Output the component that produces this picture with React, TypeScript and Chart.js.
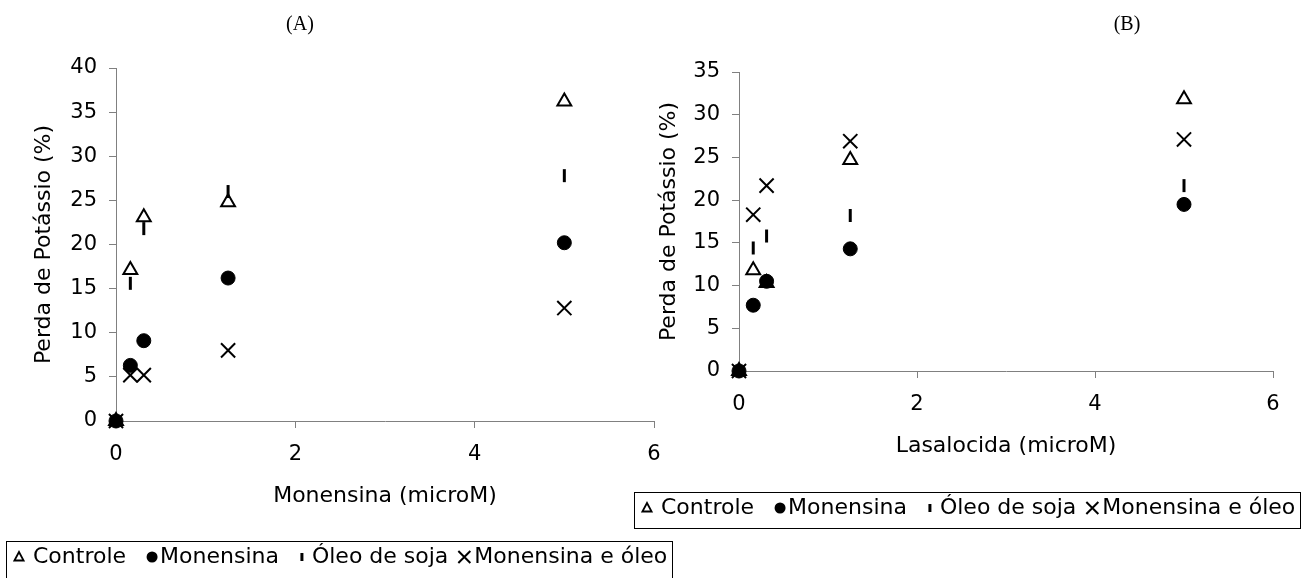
import React, { useEffect, useRef } from 'react';
import { Chart, registerables } from 'chart.js';

Chart.register(...registerables);

const SANS = '"DejaVu Sans", "Liberation Sans", sans-serif';
const SERIF = '"Liberation Serif", "Times New Roman", serif';

// ---------- data ----------
const seriesNames = ['Controle', 'Monensina', 'Óleo de soja', 'Monensina e óleo'];
const xTickValues = [0, 2, 4, 6];
const yTicksA = [0, 5, 10, 15, 20, 25, 30, 35, 40];
const yTicksB = [0, 5, 10, 15, 20, 25, 30, 35];

const concA = [0, 0.16, 0.31, 1.25, 5];
const controleA = [0, 17.1, 23.1, 24.8, 36.2];
const monensinaA = [0, 6.3, 9.1, 16.2, 20.2];
const oleoA = [0, 15.6, 21.8, 26.0, 27.8];
const monOleoA = [0, 5.2, 5.2, 8.0, 12.8];

const concB = [0, 0.16, 0.31, 1.25, 5];
const controleB = [0, 11.8, 10.3, 24.7, 31.8];
const monensinaB = [0, 7.7, 10.5, 14.3, 19.5];
const oleoB = [0, 14.4, 15.8, 18.2, 21.7];
const monOleoB = [0, 18.3, 21.7, 26.9, 27.1];

const titleA = '(A)';
const titleB = '(B)';
const xTitleA = 'Monensina (microM)';
const xTitleB = 'Lasalocida (microM)';
const yTitle = 'Perda de Potássio (%)';

// ---------- styles ----------
type Kind = 'triangle' | 'circle' | 'vline' | 'cross';
const kinds: Kind[] = ['triangle', 'circle', 'vline', 'cross'];

function pointStyleFor(i: number) {
  const k = kinds[i];
  if (k === 'triangle')
    return { pointStyle: 'triangle', pointRadius: 8, pointBackgroundColor: '#ffffff', pointBorderColor: '#000000', pointBorderWidth: 2, order: 4 };
  if (k === 'circle')
    return { pointStyle: 'circle', pointRadius: 7, pointBackgroundColor: '#000000', pointBorderColor: '#000000', pointBorderWidth: 1, order: 1 };
  if (k === 'vline')
    return { pointStyle: 'line', pointRotation: 90, pointRadius: 6.5, pointBackgroundColor: '#000000', pointBorderColor: '#000000', pointBorderWidth: 3, order: 3 };
  return { pointStyle: 'crossRot', pointRadius: 10, pointBackgroundColor: '#000000', pointBorderColor: '#000000', pointBorderWidth: 2, order: 2 };
}

function drawLegendMarker(ctx: CanvasRenderingContext2D, k: Kind, x: number, y: number) {
  ctx.save();
  ctx.strokeStyle = '#000';
  ctx.fillStyle = '#000';
  ctx.beginPath();
  if (k === 'triangle') {
    ctx.lineWidth = 1.8;
    ctx.moveTo(x, y - 5);
    ctx.lineTo(x + 4.6, y + 3.5);
    ctx.lineTo(x - 4.6, y + 3.5);
    ctx.closePath();
    ctx.stroke();
  } else if (k === 'circle') {
    ctx.arc(x, y, 5.5, 0, Math.PI * 2);
    ctx.fill();
  } else if (k === 'vline') {
    ctx.lineWidth = 3;
    ctx.moveTo(x, y - 4);
    ctx.lineTo(x, y + 4);
    ctx.stroke();
  } else {
    ctx.lineWidth = 2;
    ctx.moveTo(x - 6, y - 6);
    ctx.lineTo(x + 6, y + 6);
    ctx.moveTo(x + 6, y - 6);
    ctx.lineTo(x - 6, y + 6);
    ctx.stroke();
  }
  ctx.restore();
}

interface LegendCfg { x: number; y: number; w: number; h: number; cy: number }

function boxLegendPlugin(cfg: LegendCfg) {
  return {
    id: 'boxLegend',
    afterDraw(chart: any) {
      const ctx: CanvasRenderingContext2D = chart.ctx;
      ctx.save();
      ctx.strokeStyle = '#000';
      ctx.lineWidth = 1;
      ctx.strokeRect(cfg.x + 0.5, cfg.y + 0.5, cfg.w, cfg.h);
      ctx.font = `22px ${SANS}`;
      ctx.textBaseline = 'middle';
      ctx.textAlign = 'left';
      ctx.fillStyle = '#000';
      const firstGap = 13;
      const textGaps = [14, 8, 10, 10];
      const nextGaps = [26, 23, 16, 0];
      let cursor = cfg.x + firstGap;
      seriesNames.forEach((name, i) => {
        drawLegendMarker(ctx, kinds[i], cursor, cfg.cy);
        const tx = cursor + textGaps[i];
        ctx.fillText(name, tx, cfg.cy);
        cursor = tx + ctx.measureText(name).width + nextGaps[i];
      });
      ctx.restore();
    },
  };
}

function panelTitlePlugin(text: string, x: number, y: number) {
  return {
    id: 'panelTitle',
    afterDraw(chart: any) {
      const ctx: CanvasRenderingContext2D = chart.ctx;
      ctx.save();
      ctx.font = `20px ${SERIF}`;
      ctx.fillStyle = '#000';
      ctx.textAlign = 'center';
      ctx.textBaseline = 'middle';
      ctx.fillText(text, x, y);
      ctx.restore();
    },
  };
}

interface PanelSpec {
  width: number;
  height: number;
  x: number[];
  series: number[][];
  yTicks: number[];
  xTitle: string;
  areaLeft: number;
  areaTop: number;
  areaRight: number;
  areaBottom: number;
  yTitlePad: number;
  xTitlePad: number;
  title: string;
  titleX: number;
  titleY: number;
  legend: LegendCfg;
}

function makeConfig(p: PanelSpec): any {
  const tickFont = { family: SANS, size: 21 };
  const titleFont = { family: SANS, size: 22 };
  return {
    type: 'scatter',
    data: {
      datasets: seriesNames.map((name, i) => ({
        label: name,
        data: p.x.map((xv, j) => ({ x: xv, y: p.series[i][j] })),
        showLine: false,
        clip: false,
        ...pointStyleFor(i),
      })),
    },
    options: {
      animation: false,
      responsive: false,
      maintainAspectRatio: false,
      events: [],
      layout: { padding: { left: 0, top: p.areaTop, right: p.width - p.areaRight, bottom: 0 } },
      plugins: { legend: { display: false }, tooltip: { enabled: false }, title: { display: false } },
      scales: {
        x: {
          type: 'linear',
          min: 0,
          max: 6,
          afterBuildTicks: (s: any) => { s.ticks = xTickValues.map((v) => ({ value: v })); },
          afterFit: (s: any) => { s.height = p.height - p.areaBottom; },
          ticks: { color: '#000', font: tickFont, padding: 14, maxRotation: 0, autoSkip: false },
          grid: { display: true, drawOnChartArea: false, drawTicks: true, tickLength: 7, color: '#808080', lineWidth: 1 },
          border: { display: true, color: '#808080', width: 1 },
          title: { display: true, text: p.xTitle, color: '#000', font: titleFont, padding: { top: 0, bottom: p.xTitlePad } },
        },
        y: {
          type: 'linear',
          min: p.yTicks[0],
          max: p.yTicks[p.yTicks.length - 1],
          afterBuildTicks: (s: any) => { s.ticks = p.yTicks.map((v) => ({ value: v })); },
          afterFit: (s: any) => { s.width = p.areaLeft; },
          ticks: { color: '#000', font: tickFont, padding: 12, autoSkip: false },
          grid: { display: true, drawOnChartArea: false, drawTicks: true, tickLength: 7, color: '#808080', lineWidth: 1 },
          border: { display: true, color: '#808080', width: 1 },
          title: { display: true, text: yTitle, color: '#000', font: titleFont, padding: { top: p.yTitlePad, bottom: 0 } },
        },
      },
    },
    plugins: [boxLegendPlugin(p.legend), panelTitlePlugin(p.title, p.titleX, p.titleY)],
  };
}

// canvas A spans page x 0..680, canvas B spans page x 630..1308
const CANVAS_A_LEFT = 0;
const CANVAS_B_LEFT = 630;

const panelA: PanelSpec = {
  width: 680,
  height: 578,
  x: concA,
  series: [controleA, monensinaA, oleoA, monOleoA],
  yTicks: yTicksA,
  xTitle: xTitleA,
  areaLeft: 116,
  areaTop: 68,
  areaRight: 654,
  areaBottom: 421,
  yTitlePad: 31,
  xTitlePad: 69,
  title: titleA,
  titleX: 300,
  titleY: 25,
  legend: { x: 6, y: 541, w: 666, h: 40, cy: 557 },
};

const panelB: PanelSpec = {
  width: 678,
  height: 578,
  x: concB,
  series: [controleB, monensinaB, oleoB, monOleoB],
  yTicks: yTicksB,
  xTitle: xTitleB,
  areaLeft: 739 - CANVAS_B_LEFT,
  areaTop: 72,
  areaRight: 1273 - CANVAS_B_LEFT,
  areaBottom: 371,
  yTitlePad: 26,
  xTitlePad: 119,
  title: titleB,
  titleX: 1127 - CANVAS_B_LEFT,
  titleY: 25,
  legend: { x: 634 - CANVAS_B_LEFT, y: 492, w: 666, h: 36, cy: 508 },
};

function Panel({ spec, left }: { spec: PanelSpec; left: number }) {
  const ref = useRef<HTMLCanvasElement | null>(null);
  useEffect(() => {
    if (!ref.current) return;
    const chart = new Chart(ref.current, makeConfig(spec));
    return () => chart.destroy();
  }, [spec]);
  return (
    <canvas
      ref={ref}
      width={spec.width}
      height={spec.height}
      style={{ position: 'absolute', left, top: 0, width: spec.width, height: spec.height }}
    />
  );
}

export default function App() {
  return (
    <div style={{ position: 'fixed', left: 0, top: 0, width: 1308, height: 578, background: '#ffffff', overflow: 'hidden' }}>
      <Panel spec={panelA} left={CANVAS_A_LEFT} />
      <Panel spec={panelB} left={CANVAS_B_LEFT} />
    </div>
  );
}
